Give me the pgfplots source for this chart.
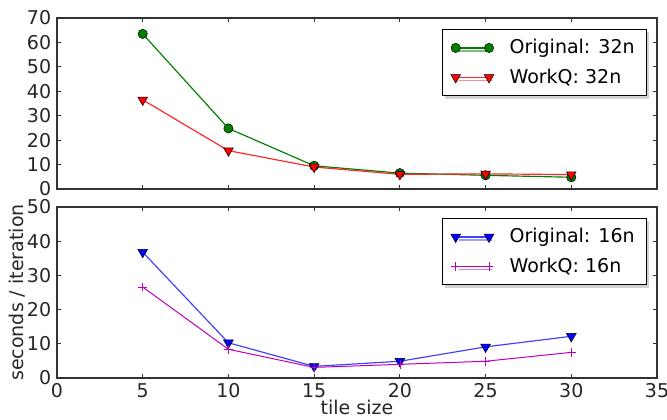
\documentclass[border=0pt]{standalone}
\usepackage{fontspec}
\setmainfont{DejaVu Sans}
\usepackage{pgfplots}
\pgfplotsset{compat=1.18}
\usetikzlibrary{shadows}

\definecolor{mgreen}{rgb}{0,0.5,0}
\definecolor{mmag}{rgb}{0.75,0,0.75}
\definecolor{lblue}{rgb}{0.25,0.25,1}
\definecolor{lred}{rgb}{1,0.15,0.15}

\pgfplotsset{
  panel/.style={
    width=360pt, height=102.6pt, scale only axis,
    xmin=0, xmax=35, xtick={0,5,...,35},
    tick align=inside, major tick length=2.6pt,
    xtick pos=both, ytick pos=both,
    axis line style={line width=0.8pt, black!80},
    tick style={black!80, line width=0.5pt},
    every tick label/.append style={font=\fontsize{11.4}{13}\selectfont, text=black!85},
    /pgf/number format/assume math mode=true,
    legend style={at={(0.983,0.936)}, anchor=north east,
      font=\fontsize{11.4}{13}\selectfont, draw=black, line width=0.6pt,
      drop shadow={shadow xshift=1.8pt, shadow yshift=-1.8pt, fill=gray!70},
      row sep=3.5pt, inner xsep=5pt, inner ysep=4pt},
    legend cell align=left,
    legend image code/.code={
      \draw[mark repeat=2, mark phase=1, #1] plot coordinates {(0pt,0pt) (10pt,0pt) (20pt,0pt)};
      \path (-2pt,0pt) (30pt,0pt);
    },
  },
}

\begin{document}
\begin{tikzpicture}
% lower panel: 16 nodes
\begin{axis}[panel, name=low,
  ymin=0, ymax=50, ytick={0,10,...,50},
  xlabel={tile size}, ylabel={seconds / iteration},
  label style={font=\fontsize{11.4}{13}\selectfont, text=black!85},
  xlabel style={yshift=3.2pt, inner sep=1pt},
  ylabel style={yshift=-6pt},
]
\addplot[lblue, line width=0.7pt, mark=triangle*, mark size=3.4pt,
  every mark/.append style={rotate=180, fill=blue, draw=black, line width=0.3pt}]
  coordinates {(5,36.8) (10,10.3) (15,3.4) (20,4.9) (25,9.1) (30,12.2)};
\addlegendentry{Original: 16n}
\addplot[mmag, line width=0.6pt, mark=+, mark size=2.6pt,
  every mark/.append style={line width=0.4pt}]
  coordinates {(5,26.6) (10,8.4) (15,3.1) (20,4.0) (25,4.9) (30,7.5)};
\addlegendentry{WorkQ: 16n}
\end{axis}

% upper panel: 32 nodes
\begin{axis}[panel, at={(0,113.4pt)}, anchor=south west,
  ymin=0, ymax=70, ytick={0,10,...,70},
  xticklabels={},
]
\addplot[mgreen, line width=0.7pt, mark=*, mark size=2.8pt,
  every mark/.append style={fill=mgreen, draw=black, line width=0.3pt}]
  coordinates {(5,63.5) (10,24.8) (15,9.5) (20,6.5) (25,5.6) (30,4.8)};
\addlegendentry{Original: 32n}
\addplot[lred, line width=0.7pt, mark=triangle*, mark size=3.4pt,
  every mark/.append style={rotate=180, fill=red, draw=black, line width=0.3pt}]
  coordinates {(5,36.5) (10,15.7) (15,9.0) (20,6.0) (25,6.2) (30,5.9)};
\addlegendentry{WorkQ: 32n}
\end{axis}
\pgfresetboundingbox
\useasboundingbox (-34.2pt,-25pt) rectangle (366pt,226.8pt);
\end{tikzpicture}
\end{document}
